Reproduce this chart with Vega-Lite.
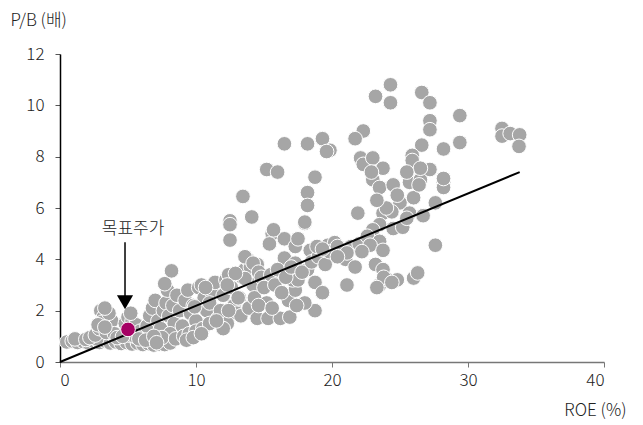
{
  "$schema": "https://vega.github.io/schema/vega-lite/v6.json",
  "autosize": "none",
  "width": 544,
  "height": 308,
  "padding": {"left": 60, "top": 54, "right": 39, "bottom": 63},
  "background": "white",
  "config": {"view": {"stroke": null}, "font": "Noto Sans CJK KR"},
  "datasets": {
    "pts": [
      {"x":0.5,"y":0.78},{"x":0.9,"y":0.82},{"x":1.3,"y":0.76},{"x":1.7,"y":0.8},{"x":2.1,"y":0.74},{"x":2.5,"y":0.8},{"x":2.9,"y":0.76},{"x":3.3,"y":0.82},{"x":3.7,"y":0.74},{"x":4.1,"y":0.78},{"x":4.5,"y":0.72},{"x":4.9,"y":0.76},{"x":5.3,"y":0.7},{"x":5.7,"y":0.74},{"x":6.1,"y":0.68},{"x":6.5,"y":0.72},{"x":6.9,"y":0.66},{"x":7.3,"y":0.7},{"x":7.7,"y":0.68},{"x":8.1,"y":0.74},{"x":1.1,"y":0.9},{"x":1.9,"y":0.88},{"x":2.7,"y":0.9},
      {"x":2.2,"y":0.95},{"x":2.6,"y":1.05},{"x":2.9,"y":1.3},{"x":3.0,"y":2.0},{"x":3.2,"y":1.75},{"x":3.1,"y":1.55},{"x":3.5,"y":1.4},{"x":3.8,"y":1.6},{"x":3.4,"y":1.15},{"x":4.0,"y":1.1},{"x":4.2,"y":0.95},{"x":2.8,"y":1.45},{"x":3.6,"y":1.9},{"x":3.3,"y":1.36},{"x":3.3,"y":2.1},
      {"x":4.8,"y":1.5},{"x":5.0,"y":1.75},{"x":5.3,"y":1.6},{"x":5.6,"y":1.45},{"x":5.1,"y":1.05},{"x":5.5,"y":1.0},{"x":5.9,"y":1.2},{"x":6.2,"y":1.05},{"x":6.4,"y":1.4},{"x":4.6,"y":1.0},{"x":5.8,"y":0.9},{"x":6.3,"y":0.85},{"x":5.2,"y":1.9},
      {"x":6.6,"y":1.8},{"x":6.8,"y":2.1},{"x":7.0,"y":2.4},{"x":7.2,"y":1.6},{"x":7.4,"y":1.3},{"x":7.6,"y":2.0},{"x":7.8,"y":2.3},{"x":7.9,"y":2.8},{"x":7.7,"y":3.05},{"x":8.2,"y":3.55},{"x":8.0,"y":1.8},{"x":8.3,"y":2.2},{"x":8.4,"y":1.5},{"x":8.1,"y":1.1},{"x":7.5,"y":0.95},{"x":6.9,"y":1.0},{"x":8.6,"y":2.6},{"x":8.8,"y":2.0},{"x":8.5,"y":0.9},{"x":7.1,"y":0.75},
      {"x":9.0,"y":1.4},{"x":9.2,"y":2.4},{"x":9.4,"y":2.8},{"x":9.6,"y":1.9},{"x":9.8,"y":2.2},{"x":10.0,"y":1.6},{"x":10.2,"y":2.9},{"x":10.4,"y":3.0},{"x":10.6,"y":2.5},{"x":10.8,"y":2.0},{"x":9.1,"y":1.0},{"x":9.5,"y":1.1},{"x":10.0,"y":1.2},{"x":10.5,"y":1.3},{"x":11.0,"y":1.5},{"x":11.2,"y":2.7},{"x":11.4,"y":3.1},{"x":11.0,"y":2.3},{"x":9.3,"y":0.85},{"x":9.8,"y":0.95},{"x":10.4,"y":1.1},{"x":9.9,"y":2.15},{"x":10.7,"y":2.9},
      {"x":11.6,"y":1.7},{"x":11.8,"y":2.0},{"x":12.0,"y":2.6},{"x":12.2,"y":3.2},{"x":12.4,"y":3.4},{"x":12.6,"y":2.9},{"x":12.8,"y":2.2},{"x":13.0,"y":1.9},{"x":13.2,"y":2.5},{"x":13.4,"y":3.3},{"x":13.6,"y":3.6},{"x":13.8,"y":4.0},{"x":14.0,"y":3.7},{"x":12.3,"y":1.5},{"x":12.0,"y":1.3},{"x":13.3,"y":1.8},{"x":13.9,"y":2.1},{"x":14.2,"y":3.0},{"x":14.5,"y":3.8},{"x":14.3,"y":2.5},
      {"x":12.5,"y":5.4},{"x":12.5,"y":4.75},{"x":15.6,"y":5.0},{"x":15.4,"y":4.6},{"x":16.5,"y":4.8},{"x":17.3,"y":4.5},{"x":17.5,"y":4.8},{"x":18.4,"y":4.35},{"x":18.0,"y":5.4},{"x":16.5,"y":4.05},{"x":17.3,"y":3.85},{"x":18.2,"y":3.6},{"x":19.7,"y":4.55},{"x":20.2,"y":4.65},
      {"x":13.6,"y":4.1},{"x":14.2,"y":3.85},{"x":14.6,"y":3.5},{"x":13.6,"y":3.25},{"x":12.9,"y":3.45},{"x":12.3,"y":3.0},{"x":13.1,"y":2.5},{"x":12.4,"y":2.0},{"x":11.5,"y":1.6},
      {"x":14.5,"y":1.7},{"x":15.3,"y":1.7},{"x":16.2,"y":1.7},{"x":16.9,"y":1.75},{"x":15.2,"y":2.3},{"x":16.8,"y":2.4},{"x":17.3,"y":2.8},{"x":17.1,"y":3.2},{"x":18.75,"y":3.1},{"x":19.3,"y":2.7},{"x":18.75,"y":2.0},{"x":18.0,"y":2.3},{"x":17.4,"y":2.2},{"x":17.5,"y":3.2},
      {"x":14.8,"y":3.3},{"x":15.0,"y":2.9},{"x":15.5,"y":3.4},{"x":15.8,"y":3.0},{"x":16.0,"y":3.6},{"x":16.3,"y":2.7},{"x":16.6,"y":3.3},{"x":17.0,"y":3.7},{"x":17.8,"y":3.5},{"x":18.5,"y":3.9},{"x":19.0,"y":4.1},{"x":19.5,"y":3.8},{"x":19.8,"y":4.3},{"x":20.6,"y":4.4},{"x":21.0,"y":4.0},{"x":21.4,"y":4.5},{"x":22.0,"y":4.6},{"x":14.6,"y":2.2},{"x":15.6,"y":2.1},{"x":18.9,"y":4.5},{"x":19.3,"y":4.4},
      {"x":23.0,"y":7.1},{"x":23.5,"y":6.8},{"x":24.5,"y":6.9},{"x":25.7,"y":7.0},{"x":26.5,"y":7.1},{"x":28.2,"y":7.0},{"x":28.2,"y":6.8},
      {"x":25.0,"y":6.2},{"x":25.7,"y":5.8},{"x":26.7,"y":5.7},{"x":27.6,"y":6.2},{"x":21.9,"y":5.8},
      {"x":23.75,"y":5.8},{"x":24.4,"y":5.85},{"x":23.5,"y":5.35},{"x":23.0,"y":5.15},{"x":24.5,"y":5.2},{"x":25.2,"y":5.25},{"x":25.5,"y":5.6},{"x":24.0,"y":6.0},{"x":24.8,"y":6.5},{"x":26.0,"y":6.4},{"x":26.4,"y":6.9},{"x":23.3,"y":6.3},
      {"x":22.6,"y":4.9},{"x":23.5,"y":4.7},{"x":22.8,"y":4.55},{"x":22.2,"y":4.3},{"x":23.75,"y":4.35},
      {"x":20.4,"y":4.5},{"x":21.1,"y":4.25},{"x":20.4,"y":4.1},{"x":21.7,"y":3.7},{"x":23.2,"y":3.8},{"x":27.6,"y":4.55},
      {"x":23.75,"y":3.6},{"x":23.5,"y":3.0},{"x":24.1,"y":3.2},{"x":24.8,"y":3.2},{"x":23.8,"y":3.3},{"x":26.0,"y":3.27},{"x":26.3,"y":3.47},{"x":23.3,"y":2.9},{"x":24.4,"y":3.1},{"x":21.1,"y":3.0},
      {"x":24.3,"y":10.8},{"x":23.2,"y":10.35},{"x":24.3,"y":10.1},{"x":26.6,"y":10.5},{"x":27.2,"y":10.1},{"x":27.2,"y":9.4},{"x":27.2,"y":9.05},{"x":29.4,"y":9.6},{"x":29.4,"y":8.55},{"x":28.2,"y":8.3},{"x":26.6,"y":8.45},{"x":25.9,"y":8.05},{"x":25.9,"y":7.85},{"x":27.2,"y":7.5},{"x":26.5,"y":7.55},{"x":25.5,"y":7.4},{"x":28.2,"y":7.15},
      {"x":32.5,"y":9.1},{"x":32.5,"y":8.8},{"x":33.1,"y":8.9},{"x":33.8,"y":8.85},{"x":33.75,"y":8.4},
      {"x":22.3,"y":9.0},{"x":21.7,"y":8.7},{"x":19.85,"y":8.25},{"x":22.1,"y":7.95},{"x":22.3,"y":7.7},{"x":23.0,"y":7.95},{"x":23.75,"y":7.55},{"x":22.9,"y":7.4},
      {"x":16.5,"y":8.5},{"x":18.2,"y":8.5},{"x":19.3,"y":8.7},{"x":19.6,"y":8.2},{"x":15.2,"y":7.5},{"x":16.0,"y":7.4},{"x":18.75,"y":7.2},{"x":13.45,"y":6.45},{"x":18.2,"y":6.6},{"x":18.2,"y":6.1},{"x":18.0,"y":5.45},{"x":14.1,"y":5.65},{"x":12.5,"y":5.5},{"x":12.5,"y":5.35},{"x":15.7,"y":5.15}
    ],
    "fit": [{"x":0,"y":0},{"x":33.8,"y":7.4}],
    "target": [{"x":5.0,"y":1.27}],
    "arrow": [{"x":4.78,"y":4.67,"y2":2.4}],
    "head": [{"x":4.78,"y":2.33}],
    "label": [{"x":5.37,"y":5.2,"t":"목표주가"}]
  },
  "encoding": {
    "x": {"field":"x","type":"quantitative","scale":{"domain":[0,40],"nice":false},
      "axis":{"values":[0,10,20,30,40],"grid":false,"title":"ROE (%)","titleAlign":"right","titleX":566,"titleY":48,"titleBaseline":"middle","titleFontSize":17,"titleFontWeight":300,"titleColor":"#222","labelFontSize":17,"labelFontWeight":300,"labelColor":"#222","labelPadding":5,"tickSize":5,"tickColor":"#777","domainColor":"#777","domainWidth":1.5}},
    "y": {"field":"y","type":"quantitative","scale":{"domain":[0,12],"nice":false},
      "axis":{"values":[0,2,4,6,8,10,12],"grid":false,"title":"P/B (배)","titleAngle":0,"titleAlign":"left","titleBaseline":"middle","titleX":-50,"titleY":-34,"titleFontSize":17,"titleFontWeight":300,"titleColor":"#222","labelFontSize":17,"labelFontWeight":300,"labelColor":"#222","labelPadding":11,"tickSize":5,"tickColor":"#555","domainColor":"#000","domainWidth":1.5}}
  },
  "layer": [
    {"data":{"name":"pts"},"mark":{"type":"circle","size":215,"color":"#A6A6A6","opacity":1,"stroke":"white","strokeWidth":1}},
    {"data":{"name":"fit"},"mark":{"type":"line","color":"#000","strokeWidth":2}},
    {"data":{"name":"target"},"mark":{"type":"circle","size":215,"color":"#A50064","opacity":1,"stroke":"white","strokeWidth":1}},
    {"data":{"name":"arrow"},"mark":{"type":"rule","color":"#000","strokeWidth":1.5},"encoding":{"y2":{"field":"y2"}}},
    {"data":{"name":"head"},"mark":{"type":"point","shape":"triangle-down","size":260,"filled":true,"color":"#000","opacity":1}},
    {"data":{"name":"label"},"mark":{"type":"text","fontSize":17,"fontWeight":300,"color":"#222","align":"center","baseline":"middle"},"encoding":{"text":{"field":"t"}}}
  ]
}
